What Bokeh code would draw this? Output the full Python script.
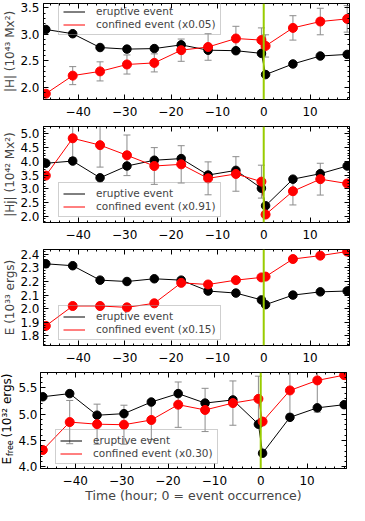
import math
from bokeh.plotting import figure
from bokeh.models import (ColumnDataSource, Whisker, TeeHead, Span, Legend, LegendItem,
                          LinearAxis, SingleIntervalTicker, Range1d, Label, PrintfTickFormatter)
from bokeh.layouts import column, row
from bokeh.embed import file_html
from bokeh.resources import INLINE

# ---------------- data ----------------
time_h = [-47.0, -41.2, -35.3, -29.5, -23.6, -17.8, -12.0, -6.0, -0.5, 0.4, 6.3, 12.2, 18.0]

h_eruptive = [3.09, 3.01, 2.75, 2.72, 2.73, 2.80, 2.70, 2.69, 2.64, 2.24, 2.44, 2.59, 2.62]
h_confined = [1.88, 2.22, 2.30, 2.43, 2.46, 2.70, 2.76, 2.92, 2.89, 2.78, 3.12, 3.24, 3.29]
h_conf_err = [0.0, 0.17, 0.18, 0.18, 0.17, 0.21, 0.25, 0.23, 0.23, 0.21, 0.23, 0.25, 0.25]

hj_eruptive = [3.93, 4.01, 3.40, 3.83, 4.04, 4.10, 3.50, 3.67, 3.02, 2.38, 3.35, 3.55, 3.83]
hj_confined = [3.48, 4.84, 4.59, 4.22, 3.83, 3.89, 3.38, 3.54, 3.26, 2.06, 2.91, 3.35, 3.19]
hj_conf_err = [0.0, 0.70, 0.80, 0.74, 0.67, 0.68, 0.60, 0.63, 0.60, 0.0, 0.50, 0.58, 0.0]

e_eruptive = [2.33, 2.316, 2.21, 2.20, 2.22, 2.21, 2.13, 2.115, 2.065, 2.03, 2.10, 2.124, 2.13]
e_confined = [1.874, 2.02, 2.02, 2.01, 2.04, 2.19, 2.178, 2.21, 2.23, 2.236, 2.365, 2.39, 2.42]
e_conf_err = [0.01, 0.015, 0.015, 0.015, 0.015, 0.015, 0.015, 0.015, 0.015, 0.015, 0.015, 0.015, 0.015]

ef_eruptive = [5.33, 5.39, 4.98, 5.01, 5.23, 5.39, 5.21, 5.27, 4.81, 4.26, 4.94, 5.12, 5.18]
ef_confined = [4.32, 4.85, 4.81, 4.80, 4.89, 5.18, 5.08, 5.21, 5.29, 4.86, 5.45, 5.64, 5.74]
ef_conf_err = [0.0, 0.41, 0.38, 0.37, 0.37, 0.43, 0.41, 0.42, 0.43, 0.0, 0.45, 0.60, 0.0]

y_labels = ["|H| (10\u2074\u00b3 Mx\u00b2)", "|Hj| (10\u2074\u00b2 Mx\u00b2)", "E (10\u00b3\u00b3 ergs)", None]
efree_label_parts = ["E", "free", "(10\u00b3\u00b2 ergs)"]
scale_factors = ["(x0.05)", "(x0.91)", "(x0.15)", "(x0.30)"]
legend_names = ["eruptive event", "confined event"]
x_label = "Time (hour; 0 = event occurrence)"
x_tick_values = [-40, -30, -20, -10, 0, 10]
x_tick_labels = ["\u221240", "\u221230", "\u221220", "\u221210", "0", "10"]

# ---------------- styling ----------------
FONT = "DejaVu Sans"
GRAY = "#8c8c8c"
GREEN = "#99cc00"
X_RANGE = (-47.5, 18.5)
FRAME_W = 306
FRAME_H = 96
LEFT = 38
LABEL_W = 15
TOP = 3

panels = [
    dict(ery=h_eruptive, con=h_confined, err=h_conf_err, yr=(1.77, 3.58), tick=0.5, leg=(15, 64)),
    dict(ery=hj_eruptive, con=hj_confined, err=hj_conf_err, yr=(1.77, 5.27), tick=0.5, leg=(15, 5)),
    dict(ery=e_eruptive, con=e_confined, err=e_conf_err, yr=(1.73, 2.435), tick=0.1, leg=(15, 5)),
    dict(ery=ef_eruptive, con=ef_confined, err=ef_conf_err, yr=(3.97, 5.79), tick=0.5, leg=(15, 4)),
]


def style_axis(ax, labels=True):
    ax.axis_line_color = "black"
    ax.major_tick_in = 5
    ax.major_tick_out = 0
    ax.minor_tick_in = 2
    ax.minor_tick_out = 0
    ax.major_tick_line_color = "black"
    ax.minor_tick_line_color = "black"
    if labels:
        ax.major_label_text_font = FONT
        ax.major_label_text_font_size = "12px"
        ax.major_label_text_color = "black"
        ax.major_label_standoff = 4
    else:
        ax.major_label_text_font_size = "1px"
        ax.major_label_text_color = None
        ax.major_label_standoff = 0


rows = []
for i, pd_ in enumerate(panels):
    last = i == 3
    bottom = 37 if last else 24
    p = figure(frame_width=FRAME_W, frame_height=FRAME_H,
               x_range=Range1d(*X_RANGE), y_range=Range1d(*pd_["yr"]),
               output_backend="svg", toolbar_location=None,
               min_border_left=(LEFT - LABEL_W) if last else LEFT,
               min_border_right=2, min_border_top=TOP, min_border_bottom=bottom,
               background_fill_color="white", border_fill_color="white")
    p.outline_line_color = "black"
    p.xgrid.visible = False
    p.ygrid.visible = False

    xt = SingleIntervalTicker(interval=10, num_minor_ticks=5)
    yt = SingleIntervalTicker(interval=pd_["tick"], num_minor_ticks=5)

    xax = p.xaxis[0]
    yax = p.yaxis[0]
    xax.ticker = xt
    yax.ticker = yt
    style_axis(xax)
    style_axis(yax)
    xax.major_label_overrides = dict(zip(x_tick_values, x_tick_labels))
    xax.major_label_standoff = 7
    yax.formatter = PrintfTickFormatter(format="%.1f")
    if last:
        yax.major_label_standoff = 3

    lab = y_labels[i]
    if lab is not None:
        yax.axis_label = lab
        yax.axis_label_text_font = FONT
        yax.axis_label_text_font_size = "12px"
        yax.axis_label_text_font_style = "normal"
        yax.axis_label_standoff = 0
    if last:
        xax.axis_label = x_label
        xax.axis_label_text_font = FONT
        xax.axis_label_text_font_size = "12.5px"
        xax.axis_label_text_font_style = "normal"
        xax.axis_label_standoff = 0

    top_ax = LinearAxis(ticker=xt)
    style_axis(top_ax, labels=False)
    p.add_layout(top_ax, "above")
    right_ax = LinearAxis(ticker=yt)
    style_axis(right_ax, labels=False)
    p.add_layout(right_ax, "right")

    # error bars on the confined-event series
    idx = [k for k, e in enumerate(pd_["err"]) if e > 0]
    src = ColumnDataSource(dict(
        t=[time_h[k] for k in idx],
        lo=[pd_["con"][k] - pd_["err"][k] for k in idx],
        hi=[pd_["con"][k] + pd_["err"][k] for k in idx]))
    w = Whisker(base="t", lower="lo", upper="hi", source=src, line_color=GRAY, line_width=1,
                upper_head=TeeHead(size=7, line_color=GRAY, line_width=1),
                lower_head=TeeHead(size=7, line_color=GRAY, line_width=1), level="underlay")
    p.add_layout(w)

    rb = p.line(time_h, pd_["ery"], line_color="black", line_width=1)
    p.scatter(time_h, pd_["ery"], size=8.5, fill_color="black", line_color="black")
    rr = p.line(time_h, pd_["con"], line_color="red", line_width=1)
    p.scatter(time_h, pd_["con"], size=9, fill_color="red", line_color="red")

    p.add_layout(Span(location=0, dimension="height", line_color=GREEN, line_width=2, level="overlay"))

    leg = Legend(items=[LegendItem(label=legend_names[0], renderers=[rb]),
                        LegendItem(label=legend_names[1] + " " + scale_factors[i], renderers=[rr])],
                 location=pd_["leg"], margin=0, padding=4, spacing=1,
                 glyph_width=22, glyph_height=11, label_height=11, label_standoff=11,
                 label_text_font=FONT, label_text_font_size="10.5px",
                 border_line_color="#a0a0a0", border_line_width=1,
                 background_fill_alpha=0)
    p.add_layout(leg)

    if last:
        # separate narrow figure that carries the E_free axis title (with subscript)
        lf = figure(frame_width=LABEL_W, frame_height=FRAME_H, x_range=Range1d(0, 1),
                    y_range=Range1d(0, 1), x_axis_type=None, y_axis_type=None,
                    output_backend="svg", toolbar_location=None,
                    min_border_left=0, min_border_right=0, min_border_top=TOP,
                    min_border_bottom=bottom, outline_line_color=None,
                    background_fill_color="white", border_fill_color="white")
        lf.xgrid.visible = False
        lf.ygrid.visible = False
        common = dict(x_units="screen", y_units="screen", angle=math.pi / 2, text_align="left",
                      text_baseline="middle", text_font=FONT, text_color="black")
        lf.add_layout(Label(text=efree_label_parts[0], x=6.5, y=4, text_font_size="12px", **common))
        lf.add_layout(Label(text=efree_label_parts[1], x=10, y=12.5, text_font_size="8px", **common))
        lf.add_layout(Label(text=efree_label_parts[2], x=6.5, y=31, text_font_size="12px", **common))
        rows.append(row(lf, p, spacing=0))
    else:
        rows.append(p)

layout = column(*rows, spacing=0)
open("out.html", "w").write(file_html(layout, INLINE))
